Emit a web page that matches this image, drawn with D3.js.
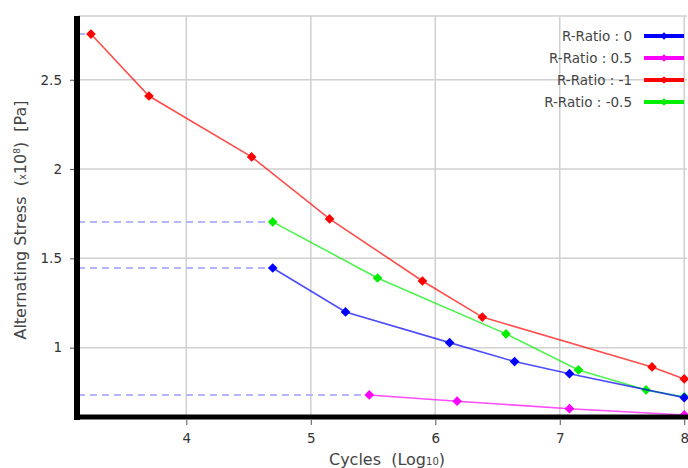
<!DOCTYPE html>
<html><head><meta charset="utf-8">
<script src="https://cdn.jsdelivr.net/npm/d3@7"></script>
<style>body{margin:0;background:#fff}svg{display:block;font-family:"DejaVu Sans",sans-serif}text{white-space:pre}</style>
</head><body><svg id="c" width="688" height="468"></svg>
<script>
const seriesNames = ["R-Ratio : 0","R-Ratio : 0.5","R-Ratio : -1","R-Ratio : -0.5"];
const seriesColors = ["#0000ff","#ff00ff","#ff0000","#00ee00"];
const r0X = [4.694,5.279,6.115,6.637,7.078,8.0];
const r0Y = [1.446,1.200,1.028,0.922,0.854,0.720];
const r05X = [5.47,6.175,7.078,8.0];
const r05Y = [0.735,0.700,0.658,0.623];
const rm1X = [3.234,3.70,4.525,5.151,5.897,6.378,7.741,8.0];
const rm1Y = [2.756,2.409,2.068,1.721,1.373,1.171,0.892,0.825];
const rm05X = [4.694,5.536,6.568,7.15,7.693,8.0];
const rm05Y = [1.704,1.390,1.077,0.875,0.763,0.724];
const xTicks = [4,5,6,7,8];
const yTicks = [1,1.5,2,2.5];

const series = [[r0X,r0Y],[r05X,r05Y],[rm1X,rm1Y],[rm05X,rm05Y]].map((s,i)=>({
  name: seriesNames[i], color: seriesColors[i], pts: s[0].map((x,j)=>[x,s[1][j]])}));
const drawOrder = [2,3,0,1];

const svg = d3.select("#c");
const L=78, R=687, T=16, B=417;
const x = d3.scaleLinear().domain([3.13,8.022]).range([L,R]);
const y = d3.scaleLinear().domain([0.606,2.857]).range([B+1,T]);

// grid
const g = svg.append("g");
g.selectAll(".vg").data(xTicks).join("line").attr("x1",d=>x(d)).attr("x2",d=>x(d)).attr("y1",T).attr("y2",B)
 .attr("stroke","#d0d0d0").attr("stroke-width",1.5);
g.selectAll(".hg").data(yTicks).join("line").attr("y1",d=>y(d)).attr("y2",d=>y(d)).attr("x1",L).attr("x2",R)
 .attr("stroke","#d0d0d0").attr("stroke-width",1.5);
g.append("line").attr("x1",L).attr("x2",R).attr("y1",T).attr("y2",T).attr("stroke","#d0d0d0").attr("stroke-width",1.5);

// dashed reference lines
series.forEach(s=>{
  const p=s.pts[0];
  svg.append("line").attr("x1",L).attr("x2",x(p[0])).attr("y1",y(p[1])).attr("y2",y(p[1]))
    .attr("stroke","#b4b4ff").attr("stroke-width",2).attr("stroke-dasharray","7,5");
});

// axes
const xa = svg.append("g").attr("transform",`translate(0,${B+3})`).call(d3.axisBottom(x).tickValues(xTicks).tickSize(5).tickPadding(8).tickFormat(d3.format("d")));
const ya = svg.append("g").attr("transform",`translate(${L-4},0)`).call(d3.axisLeft(y).tickValues(yTicks).tickSize(4).tickPadding(8).tickFormat(d=>String(d)));
[xa,ya].forEach(a=>{a.select(".domain").remove();a.selectAll("text").attr("fill","#333").style("font-size","13.5px").style("font-family","DejaVu Sans");a.selectAll("line").attr("stroke","#555");});

// lines + markers
const line = d3.line().x(d=>x(d[0])).y(d=>y(d[1]));
const diamond = d3.symbol().type(d3.symbolDiamond2).size(60);
drawOrder.forEach(i=>{
  const s=series[i];
  svg.append("path").attr("d",line(s.pts)).attr("fill","none").attr("stroke",s.color).attr("stroke-opacity",0.7).attr("stroke-width",1.6);
  svg.selectAll(null).data(s.pts).join("path").attr("d",diamond).attr("transform",d=>`translate(${x(d[0])},${y(d[1])})`).attr("fill",s.color);
});

// thick axis lines
svg.append("line").attr("x1",L-1).attr("x2",L-1).attr("y1",T).attr("y2",B+3).attr("stroke","#000").attr("stroke-width",6);
svg.append("line").attr("x1",L-4).attr("x2",R+1).attr("y1",B).attr("y2",B).attr("stroke","#000").attr("stroke-width",5);

// legend
series.forEach((s,i)=>{
  const ly = 36 + i*22;
  svg.append("text").attr("x",632).attr("y",ly).attr("dy","0.35em").attr("text-anchor","end")
    .attr("fill","#444").style("font-size","13.5px").text(s.name);
  svg.append("line").attr("x1",644).attr("x2",684).attr("y1",ly).attr("y2",ly).attr("stroke",s.color).attr("stroke-width",4);
  svg.append("path").attr("d",d3.symbol().type(d3.symbolDiamond2).size(36)).attr("transform",`translate(664,${ly})`).attr("fill",s.color);
});

// axis titles
const xt = svg.append("text").attr("x",387).attr("y",465).attr("text-anchor","middle").attr("fill","#444").style("font-size","16px");
xt.append("tspan").text("Cycles  (Log");
xt.append("tspan").style("font-size","10px").text("10");
xt.append("tspan").text(")");
const yt = svg.append("text").attr("transform","translate(26,220) rotate(-90)").attr("text-anchor","middle").attr("fill","#444").style("font-size","16px");
yt.append("tspan").text("Alternating Stress  (");
yt.append("tspan").style("font-size","10px").text("x");
yt.append("tspan").text("10");
yt.append("tspan").style("font-size","9px").attr("dy","-6").text("8");
yt.append("tspan").attr("dy","6").text(")  [Pa]");
</script></body></html>
